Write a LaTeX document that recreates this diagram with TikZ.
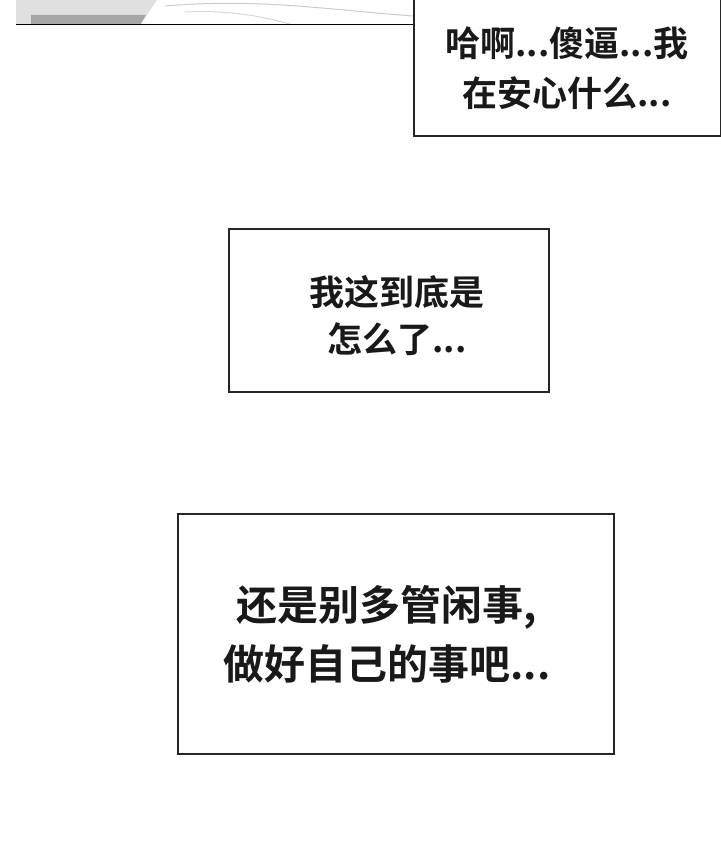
\documentclass[tikz,border=0pt]{standalone}
\usepackage{fontspec}
\newfontfamily\cjk{Noto Sans CJK SC}[BoldFont={Noto Sans CJK SC Bold}]
\begin{document}
\begin{tikzpicture}[x=1pt,y=-1pt,
  box/.style={draw=black!85,line width=1.6pt,fill=white},
  txt/.style={align=center,text=black!90}]
\useasboundingbox[fill=white] (0,0) rectangle (720,845);
% top panel fragment
\fill[black!12] (16,0) -- (157,0) -- (140,25) -- (16,25) -- cycle;
\fill[black!35] (31,15) -- (146,15) -- (140,25) -- (31,25) -- cycle;
\draw[black!20,line width=1pt] (165,6) .. controls (260,-2) and (330,10) .. (413,16);
\draw[black!15,line width=1pt] (185,12) .. controls (230,10) and (260,16) .. (290,24);
\draw[line width=1pt] (16,25) -- (413,25);
\node[box,minimum width=307,minimum height=137,anchor=north west] (b1) at (413,-2) {};
\node[txt,font=\cjk\bfseries\fontsize{35}{50}\selectfont] (t1) at (567,68) {哈啊...傻逼...我\\在安心什么...};
\node[box,minimum width=320,minimum height=163,anchor=north west] (b2) at (228,228) {};
\node[txt,font=\cjk\bfseries\fontsize{35}{47}\selectfont] (t2) at (397,316) {我这到底是\\怎么了...};
\node[box,minimum width=436,minimum height=240,anchor=north west] (b3) at (177,513) {};
\node[txt,font=\cjk\bfseries\fontsize{41}{59}\selectfont] (t3) at (387,634) {还是别多管闲事,\\做好自己的事吧...};
\end{tikzpicture}
\end{document}
